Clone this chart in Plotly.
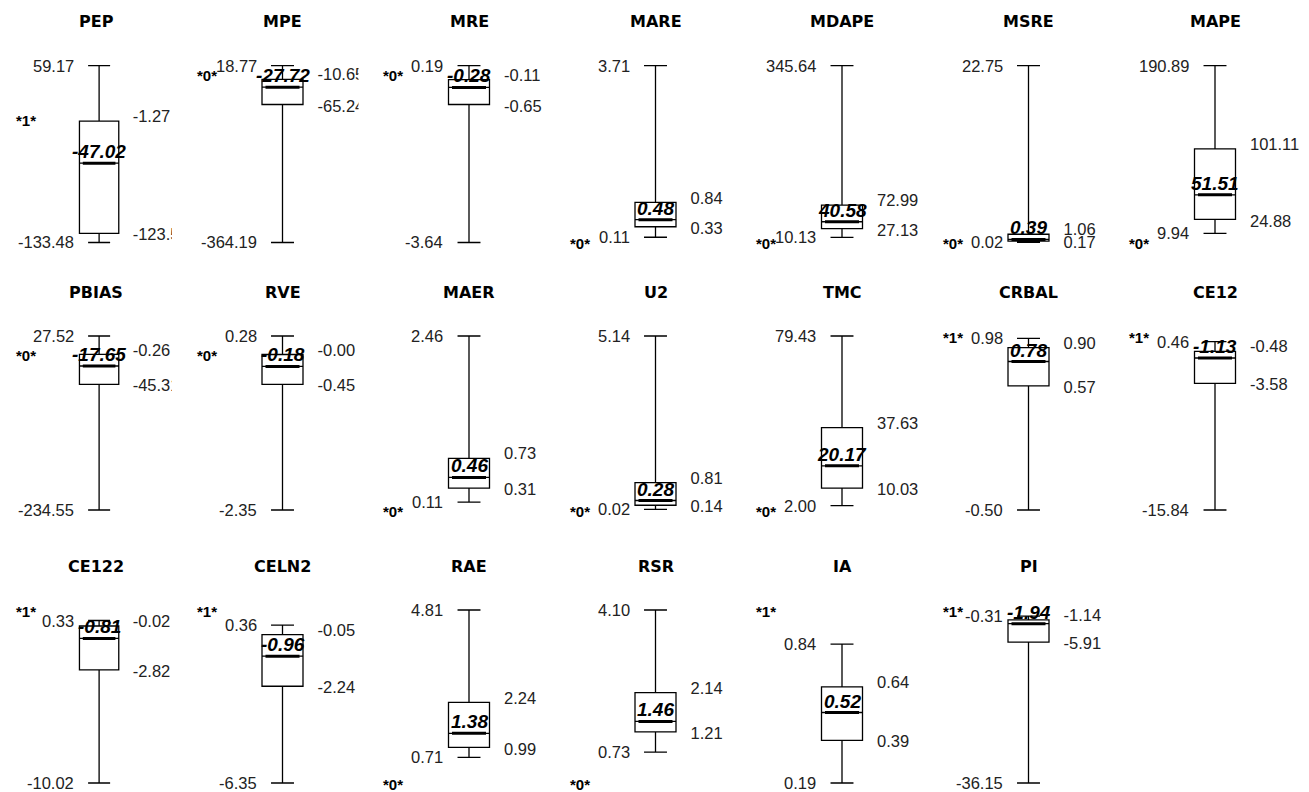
import plotly.graph_objects as go

# ---------------- data ----------------
metrics = ["PEP", "MPE", "MRE", "MARE", "MDAPE", "MSRE", "MAPE",
           "PBIAS", "RVE", "MAER", "U2", "TMC", "CRBAL", "CE12",
           "CE122", "CELN2", "RAE", "RSR", "IA", "PI"]
maxima = [59.17, 18.77, 0.19, 3.71, 345.64, 22.75, 190.89,
          27.52, 0.28, 2.46, 5.14, 79.43, 0.98, 0.46,
          0.33, 0.36, 4.81, 4.10, 0.84, -0.31]
q3s = [-1.27, -10.65, -0.11, 0.84, 72.99, 1.06, 101.11,
       -0.26, -0.00, 0.73, 0.81, 37.63, 0.90, -0.48,
       -0.02, -0.05, 2.24, 2.14, 0.64, -1.14]
medians = [-47.02, -27.72, -0.28, 0.48, 40.58, 0.39, 51.51,
           -17.65, -0.18, 0.46, 0.28, 20.17, 0.78, -1.13,
           -0.81, -0.96, 1.38, 1.46, 0.52, -1.94]
q1s = [-123.54, -65.24, -0.65, 0.33, 27.13, 0.17, 24.88,
       -45.31, -0.45, 0.31, 0.14, 10.03, 0.57, -3.58,
       -2.82, -2.24, 0.99, 1.21, 0.39, -5.91]
minima = [-133.48, -364.19, -3.64, 0.11, 10.13, 0.02, 9.94,
          -234.55, -2.35, 0.11, 0.02, 2.00, -0.50, -15.84,
          -10.02, -6.35, 0.71, 0.73, 0.19, -36.15]
ideals = [1, 0, 0, 0, 0, 0, 0,
          0, 0, 0, 0, 0, 1, 1,
          1, 1, 0, 0, 1, 1]

# ---------------- geometry / style ----------------
OFF = 8                      # page body margin of the html wrapper
W, H = 1309 - OFF, 792 - OFF
NCOL = 7
col_c = [96 + 186.5 * i - OFF for i in range(NCOL)]
row_top = [65.7 - OFF, 336.0 - OFF, 610.0 - OFF]
row_bot = [242.5 - OFF, 510.0 - OFF, 783.0 - OFF]
X_LEFT, X_RIGHT = -95, 76
PAD_T, PAD_B = 32, 9
TITLE_GAP = 44

NUM_FONT = dict(family="Liberation Sans, Arial, sans-serif", size=16.5, color="#222222")
MED_FONT = dict(family="Liberation Sans, Arial, sans-serif", size=19, color="black",
                weight="bold", style="italic")
IDEAL_FONT = dict(family="Liberation Sans, Arial, sans-serif", size=15, color="black",
                  weight="bold")
TITLE_FONT = dict(family="DejaVu Sans, sans-serif", size=16, color="black", weight="bold")

fig = go.Figure()
annotations = []
layout_axes = {}

for k, name in enumerate(metrics):
    r, c = divmod(k, NCOL)
    cx = col_c[c]
    T, B = row_top[r], row_bot[r]
    lo = min(minima[k], ideals[k])
    hi = max(maxima[k], ideals[k])
    upp = (hi - lo) / (B - T)
    xr = X_RIGHT if c < NCOL - 1 else (W - cx)
    ax = "" if k == 0 else str(k + 1)
    xa, ya = "x" + ax, "y" + ax

    layout_axes["xaxis" + ax] = dict(
        domain=[max(0, (cx + X_LEFT) / W), min(1, (cx + xr) / W)],
        range=[X_LEFT, xr], visible=False, fixedrange=True, anchor=ya)
    layout_axes["yaxis" + ax] = dict(
        domain=[max(0, 1 - (B + PAD_B) / H), min(1, 1 - (T - PAD_T) / H)],
        range=[lo - PAD_B * upp, hi + PAD_T * upp], visible=False,
        fixedrange=True, anchor=xa)

    fig.add_trace(go.Box(
        x=[0], q1=[q1s[k]], median=[medians[k]], q3=[q3s[k]],
        lowerfence=[minima[k]], upperfence=[maxima[k]],
        width=41, whiskerwidth=0.56, boxpoints=False,
        line=dict(color="black", width=1.3), fillcolor="white",
        hoverinfo="skip", xaxis=xa, yaxis=ya, showlegend=False))

    # thick median bar
    fig.add_trace(go.Scatter(
        x=[-17, 17], y=[medians[k], medians[k]], mode="lines",
        line=dict(color="black", width=3), hoverinfo="skip",
        xaxis=xa, yaxis=ya, showlegend=False))

    # right-hand quartile labels (clipped by the panel like the original)
    fig.add_trace(go.Scatter(
        x=[35, 35], y=[q3s[k] + 3 * upp, q1s[k] - 3 * upp], mode="text",
        text=[f"{q3s[k]:.2f}", f"{q1s[k]:.2f}"], textposition="middle right",
        textfont=NUM_FONT, cliponaxis=True, hoverinfo="skip",
        xaxis=xa, yaxis=ya, showlegend=False))

    # left-hand max / min labels
    for v in (maxima[k], minima[k]):
        annotations.append(dict(
            x=-24, y=v, xref=xa, yref=ya, text=f"{v:.2f}", showarrow=False,
            xanchor="right", yanchor="middle", font=NUM_FONT))

    # median value label
    annotations.append(dict(
        x=0, y=medians[k], xref=xa, yref=ya, text=f"{medians[k]:.2f}",
        showarrow=False, xanchor="center", yanchor="bottom", yshift=-1,
        font=MED_FONT))

    # ideal value marker
    annotations.append(dict(
        x=-76, y=ideals[k], xref=xa, yref=ya, text=f"*{ideals[k]}*",
        showarrow=False, xanchor="center", yanchor="middle", yshift=-1,
        font=IDEAL_FONT))

    # panel title
    annotations.append(dict(
        x=cx / W, y=1 - (T - TITLE_GAP) / H, xref="paper", yref="paper",
        text=name, showarrow=False, xanchor="center", yanchor="middle",
        font=TITLE_FONT))

fig.update_layout(
    width=W, height=H,
    margin=dict(l=0, r=0, t=0, b=0),
    paper_bgcolor="white", plot_bgcolor="white",
    showlegend=False, annotations=annotations, **layout_axes)

fig.write_html("out.html")
